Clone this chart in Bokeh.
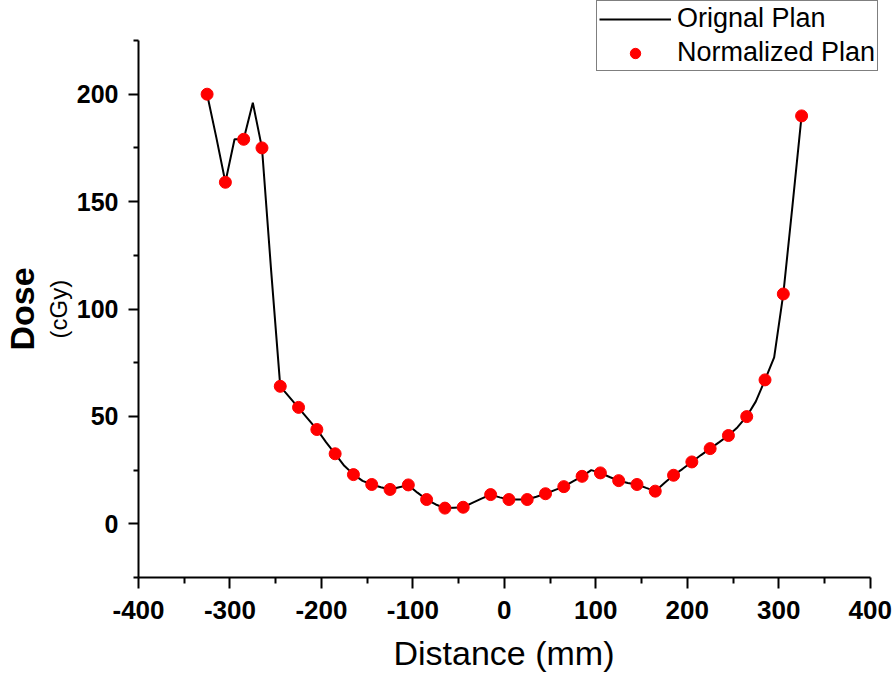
from bokeh.plotting import figure
from bokeh.models import (LinearAxis, FixedTicker, Range1d, Legend, LegendItem, Title)
from bokeh.embed import file_html
from bokeh.resources import INLINE

# Original plan (line), sampled every 10 mm
x_line = [-325, -315, -305, -295, -285, -275, -265, -255, -245, -235, -225, -215,
          -205, -195, -185, -175, -165, -155, -145, -135, -125, -115, -105, -95,
          -85, -75, -65, -55, -45, -35, -25, -15, -5, 5, 15, 25, 35, 45, 55, 65,
          75, 85, 95, 105, 115, 125, 135, 145, 155, 165, 175, 185, 195, 205, 215,
          225, 235, 245, 255, 265, 275, 285, 295, 305, 315, 325]
y_line = [200, 180, 159, 179, 179, 196, 175, 118, 64, 59, 54, 49,
          44, 38, 32.6, 27, 23, 20, 18.3, 17, 16, 17, 18, 14.5,
          11.3, 9, 7.3, 7.5, 7.7, 9.7, 11.7, 13.6, 12.3, 11.3, 11.3, 11.3, 12.6, 14, 15.7, 17.3,
          19.8, 22.1, 25, 23.7, 21.8, 20.1, 19, 18.3, 16.7, 15.2, 19, 22.6, 25.6, 28.8, 32,
          35, 38, 41.1, 45, 50, 57, 67, 77.5, 107, 148, 190]

# Normalized plan (points)
x_pts = [-325, -305, -285, -265, -245, -225, -205, -185, -165, -145, -125, -105,
         -85, -65, -45, -15, 5, 25, 45, 65, 85, 105, 125, 145, 165, 185, 205,
         225, 245, 265, 285, 305, 325]
y_pts = [200, 159, 179, 175, 64, 54.2, 43.9, 32.6, 22.9, 18.3, 16.0, 18.1,
         11.3, 7.3, 7.7, 13.6, 11.3, 11.3, 14.0, 17.3, 22.1, 23.7, 20.1, 18.3, 15.2, 22.6, 28.8,
         35.0, 41.1, 49.9, 67.0, 107.0, 189.9]

x_ticks = [-400, -300, -200, -100, 0, 100, 200, 300, 400]
x_tick_labels = ["-400", "-300", "-200", "-100", "0", "100", "200", "300", "400"]
x_minor = [-350, -250, -150, -50, 50, 150, 250, 350]
y_ticks = [0, 50, 100, 150, 200]
y_tick_labels = ["0", "50", "100", "150", "200"]
y_minor = [-25, 25, 75, 125, 175, 225]
x_bounds = (-400, 400)
y_bounds = (-25, 225)

FONT = "Liberation Sans"

W, H = 892, 682
LEFT, BOTTOM = 138, 105
px_per_mm = 731.7 / 800.0
px_per_cgy = 537.0 / 250.0
x_end = x_bounds[0] + (W - LEFT) / px_per_mm      # room for the legend on the right
y_end = y_bounds[0] + (H - BOTTOM) / px_per_cgy   # room for the legend on top

p = figure(width=W, height=H, output_backend="svg", toolbar_location=None,
           x_range=Range1d(x_bounds[0], x_end), y_range=Range1d(y_bounds[0], y_end),
           min_border_left=LEFT, min_border_top=0, min_border_right=0,
           min_border_bottom=BOTTOM, y_axis_location=None)
p.grid.visible = False
p.outline_line_color = None
p.background_fill_color = "white"
p.border_fill_color = "white"

r_line = p.line(x_line, y_line, line_color="black", line_width=2)
r_pts = p.scatter(x_pts, y_pts, size=12, fill_color="#ff0000", line_color="#ff0000")

# x axis
xa = p.xaxis[0]
xa.bounds = x_bounds
xa.ticker = FixedTicker(ticks=x_ticks, minor_ticks=x_minor)
xa.major_label_overrides = {t: s for t, s in zip(x_ticks, x_tick_labels)}
xa.major_label_text_font = FONT
xa.major_label_text_font_style = "bold"
xa.major_label_text_font_size = "26px"
xa.major_label_text_color = "black"
xa.major_label_standoff = 12
xa.axis_line_color = "black"
xa.major_tick_line_color = "black"
xa.minor_tick_line_color = "black"
xa.axis_line_width = 2
xa.major_tick_line_width = 2
xa.minor_tick_line_width = 2
xa.major_tick_out = 11
xa.major_tick_in = 0
xa.minor_tick_out = 6
xa.minor_tick_in = 0

xtitle = Title(text="Distance (mm)", align="left", offset=255,
               text_font=FONT, text_font_style="normal", text_font_size="34px",
               text_color="black", standoff=21)
p.add_layout(xtitle, "below")

# y axis with ticks
ya = LinearAxis(ticker=FixedTicker(ticks=y_ticks, minor_ticks=y_minor), bounds=y_bounds)
ya.major_label_overrides = {t: s for t, s in zip(y_ticks, y_tick_labels)}
ya.major_label_text_font = FONT
ya.major_label_text_font_style = "bold"
ya.major_label_text_font_size = "25px"
ya.major_label_text_color = "black"
ya.major_label_standoff = 10
ya.axis_line_color = "black"
ya.major_tick_line_color = "black"
ya.minor_tick_line_color = "black"
ya.axis_line_width = 2
ya.major_tick_line_width = 2
ya.minor_tick_line_width = 2
ya.major_tick_out = 10
ya.major_tick_in = 0
ya.minor_tick_out = 5
ya.minor_tick_in = 0
p.add_layout(ya, "left")

# y titles: "(cGy)" next to the tick labels, "Dose" outside it
unit_title = Title(text="(cGy)", align="left", offset=239,
                   text_font=FONT, text_font_style="normal", text_font_size="24px",
                   text_color="black", standoff=4)
p.add_layout(unit_title, "left")
dose_title = Title(text="Dose", align="left", offset=227,
                   text_font=FONT, text_font_style="bold", text_font_size="34px",
                   text_color="black", standoff=0)
p.add_layout(dose_title, "left")

legend = Legend(items=[LegendItem(label="Orignal Plan", renderers=[r_line]),
                       LegendItem(label="Normalized Plan", renderers=[r_pts])],
                location=(458, 506))
legend.label_text_font = FONT
legend.label_text_font_size = "27px"
legend.label_text_color = "black"
legend.label_standoff = 6
legend.glyph_width = 72
legend.glyph_height = 26
legend.padding = 2
legend.spacing = 3
legend.margin = 0
legend.border_line_color = "black"
legend.border_line_width = 1
legend.background_fill_alpha = 1
p.add_layout(legend, "center")

open("out.html", "w").write(file_html(p, INLINE))
